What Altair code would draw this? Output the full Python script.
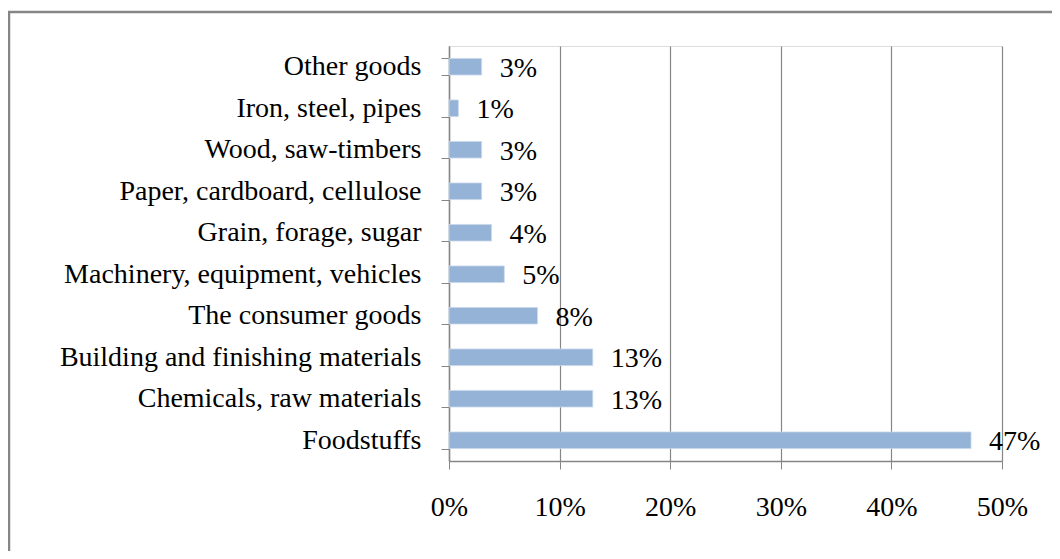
import altair as alt
import pandas as pd

categories = [
    "Other goods",
    "Iron, steel, pipes",
    "Wood, saw-timbers",
    "Paper, cardboard, cellulose",
    "Grain, forage, sugar",
    "Machinery, equipment, vehicles",
    "The consumer goods",
    "Building and finishing materials",
    "Chemicals, raw materials",
    "Foodstuffs",
]
values = [0.0295, 0.0085, 0.0295, 0.0295, 0.0384, 0.050, 0.080, 0.130, 0.130, 0.472]
labels = ["3%", "1%", "3%", "3%", "4%", "5%", "8%", "13%", "13%", "47%"]
x_ticks = [0, 0.1, 0.2, 0.3, 0.4, 0.5]

df = pd.DataFrame({"category": categories, "value": values, "label": labels})

FONT = "Liberation Serif"
FS = 28
GRAY = "#868686"
W, H = 553, 415

y_enc = alt.Y(
    "category:N",
    sort=categories,
    scale=alt.Scale(paddingInner=0.6, paddingOuter=0.3),
    axis=alt.Axis(
        title=None,
        labelFont=FONT,
        labelFontSize=FS,
        labelColor="#000000",
        labelPadding=20,
        tickSize=8,
        tickColor=GRAY,
        tickBand="extent",
        domainColor=GRAY,
        domainWidth=1.5,
        grid=False,
        labelLimit=500,
    ),
)
x_enc = alt.X(
    "value:Q",
    scale=alt.Scale(domain=[0, 0.5], nice=False),
    axis=alt.Axis(
        title=None,
        values=x_ticks,
        format=".0%",
        labelFont=FONT,
        labelFontSize=FS,
        labelColor="#000000",
        labelPadding=24,
        labelFlush=False,
        labelOverlap=False,
        tickSize=8,
        tickColor=GRAY,
        domainColor=GRAY,
        domainWidth=1.5,
        grid=True,
        gridColor=GRAY,
        gridWidth=1.2,
    ),
)

bars = alt.Chart(df).mark_bar(color="#95B3D7", stroke="#C9D9EC", strokeWidth=0.8).encode(
    x=x_enc, y=y_enc
)
text = alt.Chart(df).mark_text(
    align="left", baseline="middle", dx=18, dy=2, font=FONT, fontSize=FS, color="#000000"
).encode(x="value:Q", y=alt.Y("category:N", sort=categories), text="label:N")

border_top = alt.Chart(df.head(1)).mark_rule(color=GRAY, strokeWidth=2.5).encode(
    x=alt.value(-441), x2=alt.value(620), y=alt.value(-34)
)
border_left = alt.Chart(df.head(1)).mark_rule(color=GRAY, strokeWidth=2.5).encode(
    x=alt.value(-440), y=alt.value(-35), y2=alt.value(H + 120)
)

chart = (
    alt.layer(bars, text, border_top, border_left)
    .properties(
        width=W,
        height=H,
        autosize=alt.AutoSizeParams(type="none"),
        padding={"left": 441, "top": 38, "right": 50, "bottom": 90},
    )
    .configure_view(stroke=None)
    .configure(background="white")
)

chart.save("out.html", embed_options={"renderer": "svg", "actions": False})
